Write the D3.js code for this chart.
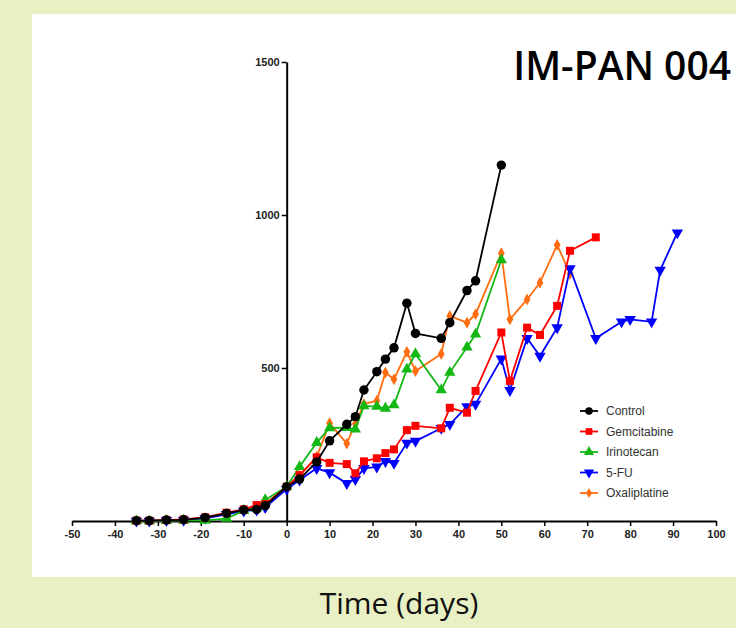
<!DOCTYPE html>
<html>
<head>
<meta charset="utf-8">
<script src="https://cdn.jsdelivr.net/npm/d3@7"></script>
<style>
  body { margin: 0; background: #e8f0c4; }
  svg { display: block; }
</style>
</head>
<body>
<svg class="chart" width="736" height="628"></svg>
<script>
// series data (days, tumour volume)
const controlDays = [-35, -32, -28, -24, -19, -14, -10, -7, -5, 0, 3, 7, 10, 14, 16, 18, 21, 23, 25, 28, 30, 36, 38, 42, 44, 50];
const controlVals = [1, 1, 3, 4, 11, 25, 36, 38, 50, 112, 137, 193, 262, 316, 341, 428, 488, 529, 566, 712, 613, 597, 648, 753, 785, 1163];

const gemDays = [-35, -32, -28, -24, -19, -14, -10, -7, -5, 0, 3, 7, 10, 14, 16, 18, 21, 23, 25, 28, 30, 36, 38, 42, 44, 50, 52, 56, 59, 63, 66, 72];
const gemVals = [1, 1, 3, 5, 12, 27, 38, 52, 55, 112, 150, 208, 190, 186, 156, 195, 205, 222, 234, 297, 311, 303, 370, 354, 425, 616, 458, 632, 608, 703, 883, 927];

const iriDays = [-35, -32, -28, -24, -19, -14, -10, -7, -5, 0, 3, 7, 10, 14, 16, 18, 21, 23, 25, 28, 30, 36, 38, 42, 44, 50];
const iriVals = [0, 0, 1, 2, 2, 8, 34, 42, 69, 112, 177, 256, 304, 305, 300, 376, 374, 368, 379, 496, 546, 428, 485, 568, 610, 853];

const fuDays = [-35, -32, -28, -24, -19, -14, -10, -7, -5, 0, 3, 7, 10, 14, 16, 18, 21, 23, 25, 28, 30, 36, 38, 42, 44, 50, 52, 56, 59, 63, 66, 72, 78, 80, 85, 87, 91];
const fuVals = [0, 0, 2, 3, 9, 22, 33, 36, 44, 104, 134, 172, 158, 123, 136, 172, 177, 195, 189, 255, 261, 303, 316, 374, 382, 530, 427, 597, 539, 632, 825, 597, 651, 659, 651, 820, 942];

const oxaDays = [-35, -32, -28, -24, -19, -14, -10, -7, -5, 0, 3, 7, 10, 14, 16, 18, 21, 23, 25, 28, 30, 36, 38, 42, 44, 50, 52, 56, 59, 63, 66];
const oxaVals = [1, 1, 3, 4, 10, 24, 35, 45, 52, 112, 148, 210, 320, 253, 318, 382, 393, 485, 463, 553, 490, 546, 670, 648, 676, 875, 659, 724, 779, 902, 808];

const xTicks = [-50, -40, -30, -20, -10, 0, 10, 20, 30, 40, 50, 60, 70, 80, 90, 100];
const yTicks = [500, 1000, 1500];

const series = [
  { name: "Control", days: controlDays, vals: controlVals, color: "#000000", shape: "circle" },
  { name: "Gemcitabine", days: gemDays, vals: gemVals, color: "#ff0000", shape: "square" },
  { name: "Irinotecan", days: iriDays, vals: iriVals, color: "#14b814", shape: "up" },
  { name: "5-FU", days: fuDays, vals: fuVals, color: "#0000ff", shape: "down" },
  { name: "Oxaliplatine", days: oxaDays, vals: oxaVals, color: "#ff6d10", shape: "diamond" }
];

const svg = d3.select(".chart");

// white panel
svg.append("rect")
  .attr("x", 32).attr("y", 14)
  .attr("width", 704).attr("height", 563)
  .attr("fill", "#ffffff");

const xScale = d3.scaleLinear().domain([-50, 100]).range([72, 716]);
const yScale = d3.scaleLinear().domain([0, 1500]).range([521, 62]);

// x axis
const xAxis = svg.append("g")
  .attr("transform", "translate(0, 521)")
  .call(d3.axisBottom(xScale).tickValues(xTicks).tickFormat(d => String(d))
    .tickSize(5).tickSizeOuter(0).tickPadding(4));

// y axis
const yAxis = svg.append("g")
  .attr("transform", `translate(${xScale(0)}, 0)`)
  .call(d3.axisLeft(yScale).tickValues(yTicks).tickFormat(d => String(d))
    .tickSize(5).tickSizeOuter(0).tickPadding(2));

[xAxis, yAxis].forEach(ax => {
  ax.select(".domain").attr("stroke", "#000").attr("stroke-width", 2);
  ax.selectAll(".tick line").attr("stroke", "#000").attr("stroke-width", 1.5);
  ax.selectAll("text")
    .attr("fill", "#222")
    .style("font-family", "'Liberation Sans', Arial, sans-serif")
    .style("font-size", "11px")
    .style("font-weight", "bold");
});

function symbolFor(shape) {
  if (shape === "circle") return d3.symbol().type(d3.symbolCircle).size(70);
  if (shape === "square") return d3.symbol().type(d3.symbolSquare).size(64);
  if (shape === "diamond") return d3.symbol().type(d3.symbolDiamond).size(40);
  return d3.symbol().type(d3.symbolTriangle).size(56);
}

const line = d3.line()
  .x(d => xScale(d[0]))
  .y(d => yScale(d[1]));

// draw back to front so Control sits on top
series.slice().reverse().forEach(s => {
  const pts = s.days.map((d, i) => [d, s.vals[i]]);
  const g = svg.append("g");
  g.append("path")
    .datum(pts)
    .attr("d", line)
    .attr("fill", "none")
    .attr("stroke", s.color)
    .attr("stroke-width", 1.8);
  g.selectAll("path.pt")
    .data(pts)
    .enter()
    .append("path")
    .attr("class", "pt")
    .attr("d", symbolFor(s.shape))
    .attr("transform", d => `translate(${xScale(d[0])}, ${yScale(d[1])})` + (s.shape === "down" ? " rotate(180)" : ""))
    .attr("fill", s.color);
});

// legend
const legend = svg.append("g").attr("transform", "translate(580, 411)");
series.forEach((s, i) => {
  const row = legend.append("g").attr("transform", `translate(0, ${i * 20.5})`);
  row.append("line")
    .attr("x1", 0).attr("x2", 18)
    .attr("stroke", s.color).attr("stroke-width", 1.8);
  row.append("path")
    .attr("d", symbolFor(s.shape).size(s.shape === "diamond" ? 30 : 45))
    .attr("transform", "translate(9, 0)" + (s.shape === "down" ? " rotate(180)" : ""))
    .attr("fill", s.color);
  row.append("text")
    .attr("x", 26).attr("y", 4)
    .attr("fill", "#333")
    .style("font-family", "'Liberation Sans', Arial, sans-serif")
    .style("font-size", "12px")
    .text(s.name);
});

// title
svg.append("text")
  .attr("x", 731).attr("y", 80)
  .attr("text-anchor", "end")
  .style("font-family", "'Open Sans', sans-serif")
  .style("font-size", "39px")
  .style("font-weight", "600")
  .attr("fill", "#000")
  .text("IM-PAN 004");

// x axis title, below the panel
svg.append("text")
  .attr("x", 399).attr("y", 614)
  .attr("text-anchor", "middle")
  .style("font-family", "'Open Sans', sans-serif")
  .style("font-size", "30px")
  .attr("fill", "#111")
  .text("Time (days)");
</script>
</body>
</html>
